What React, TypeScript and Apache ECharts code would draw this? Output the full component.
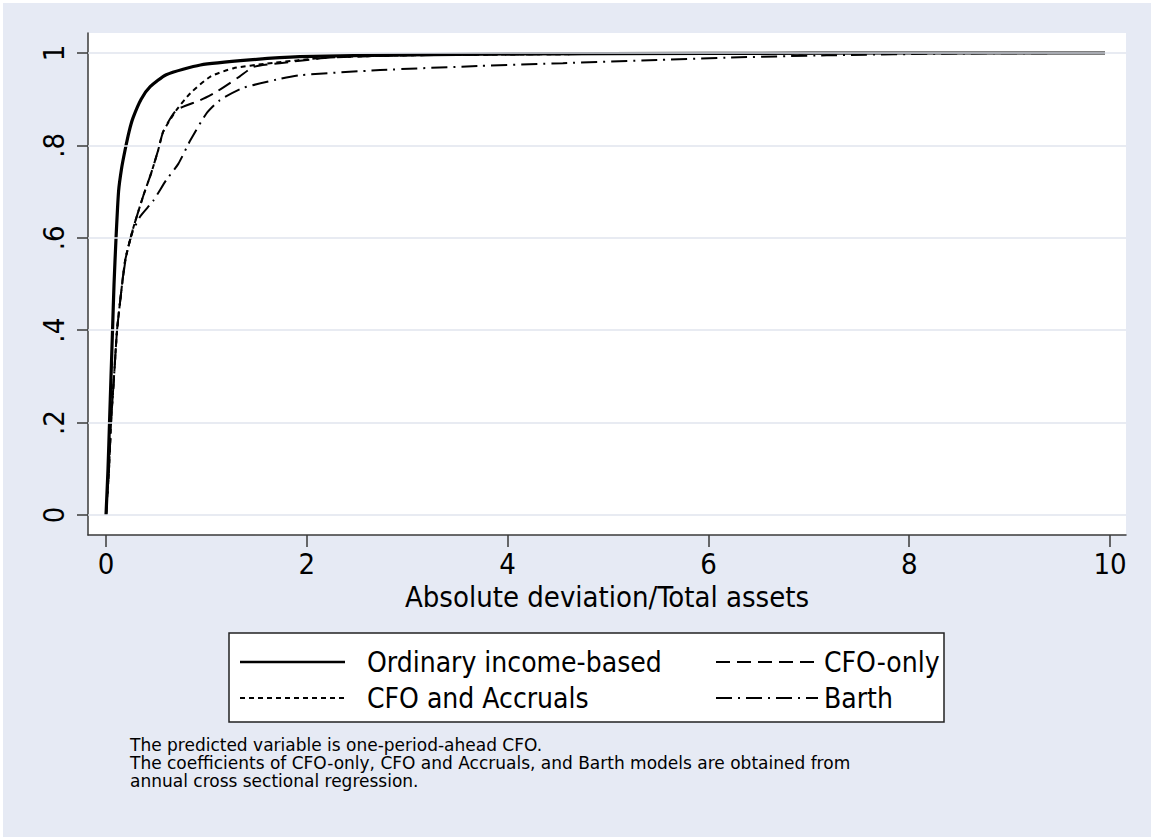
import React, { useEffect, useRef } from "react";
import * as echarts from "echarts";

const xTicks = [0, 2, 4, 6, 8, 10];
const yTicks = [0, 0.2, 0.4, 0.6, 0.8, 1];
const yTickLabels = ["0", ".2", ".4", ".6", ".8", "1"];

const seriesNames = ["Ordinary income-based", "CFO-only", "CFO and Accruals", "Barth"];

const ordinary: [number, number][] = [
  [0, 0], [0.02, 0.1], [0.035, 0.2], [0.05, 0.3], [0.065, 0.4], [0.08, 0.5], [0.1, 0.6],
  [0.125, 0.7], [0.155, 0.75], [0.19, 0.79], [0.23, 0.83], [0.27, 0.86], [0.35, 0.9],
  [0.44, 0.927], [0.6, 0.953], [0.94, 0.974], [1.43, 0.985], [1.93, 0.992], [3, 0.996],
  [4, 0.998], [6, 0.999], [8, 1], [9.95, 1],
];

const cfoOnly: [number, number][] = [
  [0, 0], [0.03, 0.1], [0.05, 0.2], [0.08, 0.3], [0.11, 0.4], [0.15, 0.48], [0.19, 0.55],
  [0.27, 0.62], [0.37, 0.69], [0.45, 0.74], [0.52, 0.79], [0.57, 0.83], [0.7, 0.876],
  [0.94, 0.898], [1.1, 0.916], [1.33, 0.949], [1.47, 0.97], [1.73, 0.978], [2.23, 0.99],
  [3, 0.995], [5, 0.998], [8, 1], [9.95, 1],
];

const cfoAccruals: [number, number][] = [
  [0, 0], [0.03, 0.1], [0.05, 0.2], [0.08, 0.3], [0.11, 0.4], [0.15, 0.48], [0.19, 0.55],
  [0.27, 0.62], [0.37, 0.69], [0.45, 0.74], [0.52, 0.79], [0.57, 0.83], [0.7, 0.876],
  [0.84, 0.913], [1.04, 0.949], [1.27, 0.967], [1.6, 0.977], [2.2, 0.99], [3, 0.995],
  [5, 0.998], [8, 1], [9.95, 1],
];

const barth: [number, number][] = [
  [0, 0], [0.03, 0.1], [0.05, 0.2], [0.08, 0.3], [0.11, 0.4], [0.15, 0.48], [0.2, 0.56],
  [0.26, 0.61], [0.34, 0.646], [0.47, 0.68], [0.6, 0.725], [0.72, 0.76], [0.84, 0.811],
  [1.0, 0.869], [1.135, 0.898], [1.36, 0.924], [1.73, 0.944], [1.93, 0.952], [2.73, 0.963],
  [3.72, 0.972], [4.55, 0.978], [5.5, 0.985], [6.18, 0.99], [7.18, 0.995], [8.5, 0.999],
  [9.95, 1],
];

const footnote = [
  "The predicted variable is one-period-ahead CFO.",
  "The coefficients of CFO-only, CFO and Accruals, and Barth models are obtained from",
  "annual cross sectional regression.",
];

const FONT = "'DejaVu Sans Condensed', 'Liberation Sans Narrow', sans-serif";
const NOTE_FONT = "'DejaVu Sans', Verdana, sans-serif";
const INK = "#000";
const AXIS = "#3a3a3a";

const dashOrdinary = "solid";
const dashCfoOnly = [14, 7];
const dashCfoAcc = [5, 4];
const dashBarth = [16, 6, 2, 6];

export default function App() {
  const ref = useRef<HTMLDivElement>(null);

  useEffect(() => {
    document.body.style.margin = "0";
    const chart = echarts.init(ref.current!, null, { renderer: "svg" });

    const lineSeries = (name: string, data: [number, number][], type: any, width: number) => ({
      name,
      type: "line",
      data,
      showSymbol: false,
      symbol: "none",
      smooth: 0.2,
      z: 3,
      lineStyle: { color: INK, width, type },
    });

    const legendRow = (y: number, x1: number, x2: number, tx: number, text: string, dash: any, w: number) => [
      {
        type: "line",
        shape: { x1, y1: y, x2, y2: y },
        style: { stroke: INK, lineWidth: w, lineDash: dash === "solid" ? null : dash },
      },
      {
        type: "text",
        x: tx,
        y,
        style: { text, fill: INK, font: `28px ${FONT}`, textVerticalAlign: "middle" },
      },
    ];

    chart.setOption({
      animation: false,
      backgroundColor: "#ffffff",
      grid: {
        left: 88,
        right: 25,
        top: 33,
        bottom: 302,
        show: true,
        backgroundColor: "#ffffff",
        borderWidth: 0,
      },
      xAxis: {
        type: "value",
        min: -0.1793,
        max: 10.159,
        splitLine: { show: false },
        axisLine: { show: true, onZero: false, lineStyle: { color: AXIS, width: 1.5 } },
        axisTick: { show: true, customValues: xTicks, length: 12, lineStyle: { color: AXIS, width: 1.5 } },
        axisLabel: {
          customValues: xTicks,
          color: INK,
          fontFamily: FONT,
          fontSize: 29,
          margin: 14,
        },
        name: "Absolute deviation/Total assets",
        nameLocation: "middle",
        nameGap: 43,
        nameTextStyle: { color: INK, fontFamily: FONT, fontSize: 29 },
      },
      yAxis: {
        type: "value",
        min: -0.0433,
        max: 1.0433,
        splitLine: { show: false },
        axisLine: { show: true, onZero: false, lineStyle: { color: AXIS, width: 1.5 } },
        axisTick: { show: true, customValues: yTicks, length: 11, lineStyle: { color: AXIS, width: 1.5 } },
        axisLabel: {
          customValues: yTicks,
          rotate: 90,
          color: INK,
          fontFamily: FONT,
          fontSize: 29,
          margin: 20,
          formatter: (v: number) => {
            const i = yTicks.findIndex((t) => Math.abs(t - v) < 1e-6);
            return i >= 0 ? yTickLabels[i] : "";
          },
        },
      },
      series: [
        {
          name: "grid",
          type: "line",
          data: [],
          z: 1,
          silent: true,
          markLine: {
            silent: true,
            symbol: "none",
            label: { show: false },
            lineStyle: { color: "#e1e5ee", width: 1.5, type: "solid" },
            data: yTicks.map((t) => ({ yAxis: t })),
          },
        },
        lineSeries(seriesNames[0], ordinary, dashOrdinary, 3.2),
        lineSeries(seriesNames[1], cfoOnly, dashCfoOnly, 2),
        lineSeries(seriesNames[2], cfoAccruals, dashCfoAcc, 2),
        lineSeries(seriesNames[3], barth, dashBarth, 2),
      ],
      graphic: [
        {
          type: "rect",
          z: -10,
          shape: { x: 3, y: 3, width: 1148, height: 834 },
          style: { fill: "#e6eaf4" },
        },
        {
          type: "rect",
          shape: { x: 229, y: 633, width: 715, height: 89 },
          style: { fill: "#ffffff", stroke: "#222", lineWidth: 1.5 },
        },
        ...legendRow(662, 240, 345, 367, seriesNames[0], dashOrdinary, 2.5),
        ...legendRow(662, 716, 818, 824, seriesNames[1], dashCfoOnly, 1.8),
        ...legendRow(698, 240, 345, 367, seriesNames[2], dashCfoAcc, 1.8),
        ...legendRow(698, 716, 818, 824, seriesNames[3], dashBarth, 1.8),
        {
          type: "text",
          x: 130,
          y: 736,
          style: {
            text: footnote.join("\n"),
            fill: INK,
            font: `17px ${NOTE_FONT}`,
            lineHeight: 18,
          },
        },
      ],
    });

    return () => chart.dispose();
  }, []);

  return <div ref={ref} style={{ width: 1151, height: 837 }} />;
}
